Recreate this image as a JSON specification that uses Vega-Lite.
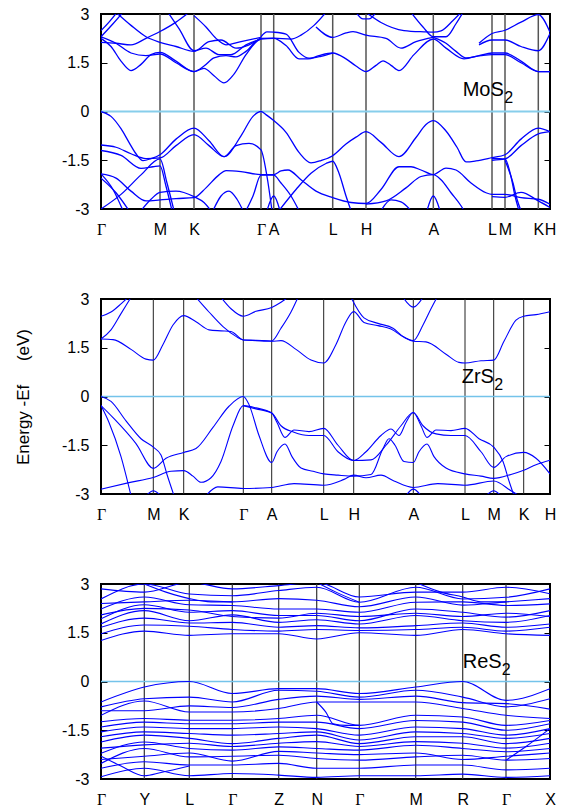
{
"$schema":"https://vega.github.io/schema/vega-lite/v6.json",
"padding":{"left":13,"top":5,"right":5,"bottom":5},
"spacing":90,
"bounds":"flush",
"config":{"view":{"stroke":"#000","strokeWidth":2},"font":"Liberation Sans","axis":{"labelColor":"#000","labelFont":"Liberation Sans","titleFont":"Liberation Sans","titleColor":"#000","tickColor":"#000"}},
"datasets":{
"mk":[{"k":0},{"k":59},{"k":93},{"k":160},{"k":172.7},{"k":231.7},{"k":265},{"k":332.3},{"k":391},{"k":404},{"k":437.3},{"k":449}],
"zk":[{"k":0},{"k":52.3},{"k":82.7},{"k":142.3},{"k":170.7},{"k":222.7},{"k":252.7},{"k":312.3},{"k":364},{"k":392.7},{"k":422.7},{"k":449}],
"rk":[{"k":0},{"k":43.3},{"k":88.3},{"k":131.3},{"k":177.7},{"k":215.7},{"k":258.3},{"k":314.7},{"k":361.7},{"k":405},{"k":449}],
"m":[
{"b":"v1","k":0,"e":0},{"b":"v1","k":10,"e":-0.15},{"b":"v1","k":20,"e":-0.53},{"b":"v1","k":28,"e":-0.95},{"b":"v1","k":35,"e":-1.3},{"b":"v1","k":42,"e":-1.51},{"b":"v1","k":50,"e":-1.45},{"b":"v1","k":59,"e":-1.33},{"b":"v1","k":75,"e":-0.85},{"b":"v1","k":93,"e":-0.51},{"b":"v1","k":108,"e":-0.9},{"b":"v1","k":123,"e":-1.39},{"b":"v1","k":140,"e":-0.75},{"b":"v1","k":152,"e":-0.15},{"b":"v1","k":160,"e":0},{"b":"v1","k":166,"e":-0.12},{"b":"v1","k":172.7,"e":-0.28},{"b":"v1","k":185,"e":-0.64},{"b":"v1","k":198,"e":-1.26},{"b":"v1","k":210,"e":-1.58},{"b":"v1","k":220,"e":-1.51},{"b":"v1","k":231.7,"e":-1.36},{"b":"v1","k":245,"e":-1.0},{"b":"v1","k":255,"e":-0.79},{"b":"v1","k":265,"e":-0.62},{"b":"v1","k":280,"e":-0.95},{"b":"v1","k":298,"e":-1.39},{"b":"v1","k":315,"e":-0.8},{"b":"v1","k":325,"e":-0.4},{"b":"v1","k":332.3,"e":-0.28},{"b":"v1","k":345,"e":-0.6},{"b":"v1","k":356,"e":-1.1},{"b":"v1","k":365,"e":-1.55},{"b":"v1","k":375,"e":-1.52},{"b":"v1","k":391,"e":-1.42},{"b":"v1","k":404,"e":-1.33},{"b":"v1","k":420,"e":-0.85},{"b":"v1","k":437.3,"e":-0.51},{"b":"v1","k":449,"e":-0.62},
{"b":"v2","k":0,"e":-1.03},{"b":"v2","k":15,"e":-1.1},{"b":"v2","k":30,"e":-1.3},{"b":"v2","k":45,"e":-1.45},{"b":"v2","k":59,"e":-1.43},{"b":"v2","k":75,"e":-1.05},{"b":"v2","k":93,"e":-0.71},{"b":"v2","k":108,"e":-1.05},{"b":"v2","k":123,"e":-1.39},{"b":"v2","k":135,"e":-1.05},{"b":"v2","k":148,"e":-0.98},{"b":"v2","k":160,"e":-1.18},{"b":"v2","k":166,"e":-2.0},{"b":"v2","k":171,"e":-3.05},
{"b":"v2r","k":391,"e":-1.5},{"b":"v2r","k":404,"e":-1.46},{"b":"v2r","k":420,"e":-1.05},{"b":"v2r","k":437.3,"e":-0.69},{"b":"v2r","k":449,"e":-0.62},
{"b":"v3","k":0,"e":-1.2},{"b":"v3","k":20,"e":-1.35},{"b":"v3","k":40,"e":-1.75},{"b":"v3","k":52,"e":-1.7},{"b":"v3","k":59,"e":-1.67},{"b":"v3","k":65,"e":-2.3},{"b":"v3","k":71,"e":-3.05},
{"b":"v4","k":0,"e":-1.92},{"b":"v4","k":15,"e":-2.05},{"b":"v4","k":30,"e":-2.45},{"b":"v4","k":45,"e":-2.75},{"b":"v4","k":59,"e":-2.72},{"b":"v4","k":75,"e":-2.68},{"b":"v4","k":93,"e":-2.65},{"b":"v4","k":105,"e":-2.35},{"b":"v4","k":118,"e":-1.95},{"b":"v4","k":125,"e":-1.82},{"b":"v4","k":140,"e":-1.85},{"b":"v4","k":160,"e":-1.94},{"b":"v4","k":172.7,"e":-1.94},{"b":"v4","k":180,"e":-1.83},{"b":"v4","k":187,"e":-1.8},{"b":"v4","k":200,"e":-2.1},{"b":"v4","k":215,"e":-2.45},{"b":"v4","k":231.7,"e":-2.65},{"b":"v4","k":250,"e":-2.8},{"b":"v4","k":265,"e":-2.83},{"b":"v4","k":280,"e":-2.4},{"b":"v4","k":298,"e":-1.7},{"b":"v4","k":310,"e":-1.7},{"b":"v4","k":320,"e":-1.8},{"b":"v4","k":332.3,"e":-1.94},{"b":"v4","k":345,"e":-1.74},{"b":"v4","k":355,"e":-1.8},{"b":"v4","k":370,"e":-2.2},{"b":"v4","k":385,"e":-2.5},{"b":"v4","k":391,"e":-2.55},{"b":"v4","k":404,"e":-2.55},{"b":"v4","k":420,"e":-2.65},{"b":"v4","k":437.3,"e":-2.7},{"b":"v4","k":449,"e":-2.85},
{"b":"v5","k":0,"e":-3.0},{"b":"v5","k":20,"e":-2.55},{"b":"v5","k":40,"e":-1.95},{"b":"v5","k":59,"e":-1.46},{"b":"v5","k":66,"e":-2.2},{"b":"v5","k":73,"e":-3.05},
{"b":"v6","k":0,"e":-1.92},{"b":"v6","k":12,"e":-2.4},{"b":"v6","k":22,"e":-3.05},
{"b":"v7","k":0,"e":-2.05},{"b":"v7","k":15,"e":-2.5},{"b":"v7","k":28,"e":-3.05},
{"b":"v8","k":40,"e":-3.05},{"b":"v8","k":50,"e":-2.7},{"b":"v8","k":59,"e":-2.49},{"b":"v8","k":75,"e":-2.45},{"b":"v8","k":93,"e":-2.62},{"b":"v8","k":103,"e":-2.8},{"b":"v8","k":110,"e":-3.05},
{"b":"v9","k":112,"e":-3.05},{"b":"v9","k":120,"e":-2.6},{"b":"v9","k":128,"e":-2.45},{"b":"v9","k":136,"e":-2.7},{"b":"v9","k":142,"e":-3.05},
{"b":"v10","k":145,"e":-3.05},{"b":"v10","k":152,"e":-2.6},{"b":"v10","k":160,"e":-1.96},{"b":"v10","k":172.7,"e":-1.96},{"b":"v10","k":180,"e":-2.2},{"b":"v10","k":190,"e":-2.6},{"b":"v10","k":198,"e":-3.05},
{"b":"v11","k":166,"e":-3.05},{"b":"v11","k":172.7,"e":-2.6},{"b":"v11","k":179,"e":-3.05},
{"b":"v12","k":178,"e":-3.05},{"b":"v12","k":195,"e":-2.4},{"b":"v12","k":210,"e":-1.9},{"b":"v12","k":225,"e":-1.6},{"b":"v12","k":231.7,"e":-1.53},{"b":"v12","k":238,"e":-1.9},{"b":"v12","k":245,"e":-2.6},{"b":"v12","k":250,"e":-3.05},
{"b":"v13","k":280,"e":-3.05},{"b":"v13","k":290,"e":-2.72},{"b":"v13","k":300,"e":-2.78},{"b":"v13","k":310,"e":-3.05},
{"b":"v14","k":265,"e":-2.85},{"b":"v14","k":285,"e":-2.75},{"b":"v14","k":305,"e":-2.35},{"b":"v14","k":320,"e":-2.0},{"b":"v14","k":332.3,"e":-1.94},{"b":"v14","k":340,"e":-2.1},{"b":"v14","k":350,"e":-2.5},{"b":"v14","k":360,"e":-2.9},{"b":"v14","k":363,"e":-3.05},
{"b":"v15","k":326,"e":-3.05},{"b":"v15","k":332.3,"e":-2.6},{"b":"v15","k":339,"e":-3.05},
{"b":"v16","k":391,"e":-1.44},{"b":"v16","k":404,"e":-1.46},{"b":"v16","k":410,"e":-2.0},{"b":"v16","k":414,"e":-2.6},{"b":"v16","k":418,"e":-3.05},
{"b":"v17","k":404,"e":-1.5},{"b":"v17","k":412,"e":-2.2},{"b":"v17","k":416,"e":-2.7},{"b":"v17","k":420,"e":-3.05},
{"b":"v18","k":391,"e":-2.62},{"b":"v18","k":404,"e":-2.64},{"b":"v18","k":420,"e":-2.49},{"b":"v18","k":437.3,"e":-2.75},{"b":"v18","k":449,"e":-2.95},
{"b":"c1","k":0,"e":2.25},{"b":"c1","k":10,"e":2.0},{"b":"c1","k":20,"e":1.55},{"b":"c1","k":30,"e":1.26},{"b":"c1","k":40,"e":1.45},{"b":"c1","k":50,"e":1.75},{"b":"c1","k":59,"e":1.82},{"b":"c1","k":75,"e":1.55},{"b":"c1","k":93,"e":1.23},{"b":"c1","k":103,"e":1.33},{"b":"c1","k":113,"e":1.1},{"b":"c1","k":123,"e":0.88},{"b":"c1","k":133,"e":1.15},{"b":"c1","k":145,"e":1.75},{"b":"c1","k":160,"e":2.23},{"b":"c1","k":172.7,"e":2.25},{"b":"c1","k":185,"e":2.03},{"b":"c1","k":198,"e":1.62},{"b":"c1","k":207,"e":1.62},{"b":"c1","k":218,"e":1.72},{"b":"c1","k":231.7,"e":1.8},{"b":"c1","k":245,"e":1.62},{"b":"c1","k":255,"e":1.4},{"b":"c1","k":265,"e":1.23},{"b":"c1","k":275,"e":1.42},{"b":"c1","k":282,"e":1.56},{"b":"c1","k":290,"e":1.42},{"b":"c1","k":298,"e":1.26},{"b":"c1","k":313,"e":1.75},{"b":"c1","k":332.3,"e":2.23},{"b":"c1","k":345,"e":1.95},{"b":"c1","k":363,"e":1.62},{"b":"c1","k":378,"e":1.72},{"b":"c1","k":391,"e":1.8},{"b":"c1","k":404,"e":1.8},{"b":"c1","k":420,"e":1.55},{"b":"c1","k":437.3,"e":1.23},{"b":"c1","k":449,"e":1.23},
{"b":"c2","k":0,"e":2.3},{"b":"c2","k":15,"e":2.1},{"b":"c2","k":30,"e":1.8},{"b":"c2","k":45,"e":1.72},{"b":"c2","k":59,"e":1.77},{"b":"c2","k":75,"e":1.5},{"b":"c2","k":93,"e":1.23},{"b":"c2","k":103,"e":1.4},{"b":"c2","k":113,"e":1.65},{"b":"c2","k":125,"e":1.72},{"b":"c2","k":135,"e":1.68},{"b":"c2","k":145,"e":1.85},{"b":"c2","k":160,"e":2.25},{"b":"c2","k":172.7,"e":2.26},{"b":"c2","k":190,"e":2.23},{"b":"c2","k":200,"e":2.35},{"b":"c2","k":213,"e":2.65},{"b":"c2","k":225,"e":3.05},
{"b":"c2r","k":332.3,"e":2.28},{"b":"c2r","k":345,"e":2.1},{"b":"c2r","k":355,"e":1.85},{"b":"c2r","k":365,"e":1.65},{"b":"c2r","k":380,"e":1.72},{"b":"c2r","k":391,"e":1.75},{"b":"c2r","k":404,"e":1.75},{"b":"c2r","k":420,"e":1.5},{"b":"c2r","k":437.3,"e":1.23},{"b":"c2r","k":449,"e":1.23},
{"b":"c3","k":0,"e":2.13},{"b":"c3","k":15,"e":2.1},{"b":"c3","k":30,"e":2.05},{"b":"c3","k":45,"e":2.25},{"b":"c3","k":59,"e":2.46},{"b":"c3","k":75,"e":2.75},{"b":"c3","k":88,"e":3.05},
{"b":"c8","k":15,"e":3.05},{"b":"c8","k":30,"e":2.65},{"b":"c8","k":45,"e":2.3},{"b":"c8","k":59,"e":2.13},{"b":"c8","k":75,"e":2.0},{"b":"c8","k":93,"e":1.85},{"b":"c8","k":108,"e":2.15},{"b":"c8","k":120,"e":2.2},{"b":"c8","k":135,"e":1.95},{"b":"c8","k":160,"e":2.25},
{"b":"c4","k":67,"e":3.05},{"b":"c4","k":78,"e":2.55},{"b":"c4","k":93,"e":1.87},{"b":"c4","k":105,"e":1.95},{"b":"c4","k":118,"e":1.75},{"b":"c4","k":130,"e":1.75},{"b":"c4","k":145,"e":2.05},{"b":"c4","k":160,"e":2.23},
{"b":"c5","k":93,"e":2.95},{"b":"c5","k":105,"e":2.6},{"b":"c5","k":115,"e":2.25},{"b":"c5","k":125,"e":2.05},{"b":"c5","k":140,"e":2.15},{"b":"c5","k":160,"e":2.28},
{"b":"c6","k":0,"e":2.49},{"b":"c6","k":8,"e":2.75},{"b":"c6","k":16,"e":3.05},
{"b":"c7","k":0,"e":2.3},{"b":"c7","k":12,"e":2.7},{"b":"c7","k":22,"e":3.05},
{"b":"c9","k":160,"e":2.3},{"b":"c9","k":166,"e":2.45},{"b":"c9","k":172.7,"e":2.44},{"b":"c9","k":185,"e":2.38},{"b":"c9","k":198,"e":1.82},{"b":"c9","k":208,"e":1.64},{"b":"c9","k":220,"e":1.7},{"b":"c9","k":231.7,"e":1.8},
{"b":"c11","k":215,"e":2.6},{"b":"c11","k":231.7,"e":2.28},{"b":"c11","k":245,"e":2.42},{"b":"c11","k":252,"e":2.46},{"b":"c11","k":265,"e":2.35},{"b":"c11","k":285,"e":2.25},{"b":"c11","k":300,"e":1.95},{"b":"c11","k":315,"e":2.15},{"b":"c11","k":332.3,"e":2.28},
{"b":"c12","k":255,"e":3.05},{"b":"c12","k":262,"e":2.85},{"b":"c12","k":268,"e":2.85},{"b":"c12","k":275,"e":3.05},
{"b":"c13","k":265,"e":3.05},{"b":"c13","k":280,"e":2.74},{"b":"c13","k":303,"e":2.49},{"b":"c13","k":323,"e":2.45},{"b":"c13","k":332.3,"e":2.44},{"b":"c13","k":340,"e":2.48},{"b":"c13","k":352,"e":2.8},{"b":"c13","k":360,"e":3.05},
{"b":"c14","k":310,"e":3.05},{"b":"c14","k":322,"e":2.6},{"b":"c14","k":332.3,"e":2.3},{"b":"c14","k":345,"e":2.3},{"b":"c14","k":355,"e":2.7},{"b":"c14","k":362,"e":3.05},
{"b":"c15","k":378,"e":2.1},{"b":"c15","k":391,"e":2.4},{"b":"c15","k":404,"e":2.5},{"b":"c15","k":420,"e":2.75},{"b":"c15","k":437.3,"e":2.98},{"b":"c15","k":449,"e":2.44},
{"b":"c16","k":378,"e":2.05},{"b":"c16","k":391,"e":2.2},{"b":"c16","k":404,"e":2.2},{"b":"c16","k":420,"e":2.0},{"b":"c16","k":437.3,"e":1.87},{"b":"c16","k":449,"e":2.4}
],
"z":[
{"b":"c1","k":0,"e":1.77},{"b":"c1","k":12,"e":1.75},{"b":"c1","k":30,"e":1.45},{"b":"c1","k":45,"e":1.15},{"b":"c1","k":52.3,"e":1.12},{"b":"c1","k":62,"e":1.6},{"b":"c1","k":72,"e":2.2},{"b":"c1","k":82.7,"e":2.49},{"b":"c1","k":95,"e":2.3},{"b":"c1","k":108,"e":2.05},{"b":"c1","k":120,"e":2.02},{"b":"c1","k":130,"e":2.0},{"b":"c1","k":142.3,"e":1.74},{"b":"c1","k":155,"e":1.72},{"b":"c1","k":170.7,"e":1.7},{"b":"c1","k":180,"e":1.72},{"b":"c1","k":195,"e":1.45},{"b":"c1","k":210,"e":1.12},{"b":"c1","k":222.7,"e":1.03},{"b":"c1","k":235,"e":1.6},{"b":"c1","k":245,"e":2.3},{"b":"c1","k":252.7,"e":2.61},{"b":"c1","k":263,"e":2.28},{"b":"c1","k":277,"e":2.18},{"b":"c1","k":290,"e":2.08},{"b":"c1","k":303,"e":1.82},{"b":"c1","k":312.3,"e":1.7},{"b":"c1","k":325,"e":1.68},{"b":"c1","k":345,"e":1.3},{"b":"c1","k":358,"e":1.05},{"b":"c1","k":364,"e":1.03},{"b":"c1","k":380,"e":1.1},{"b":"c1","k":392.7,"e":1.12},{"b":"c1","k":403,"e":1.7},{"b":"c1","k":415,"e":2.35},{"b":"c1","k":422.7,"e":2.47},{"b":"c1","k":435,"e":2.52},{"b":"c1","k":449,"e":2.61},
{"b":"c2","k":95,"e":3.05},{"b":"c2","k":108,"e":2.6},{"b":"c2","k":122,"e":2.15},{"b":"c2","k":135,"e":1.85},{"b":"c2","k":142.3,"e":1.74},{"b":"c2","k":155,"e":1.73},{"b":"c2","k":170.7,"e":1.71},{"b":"c2","k":180,"e":2.1},{"b":"c2","k":190,"e":2.6},{"b":"c2","k":197,"e":3.05},
{"b":"c3","k":0,"e":1.77},{"b":"c3","k":10,"e":2.05},{"b":"c3","k":20,"e":2.55},{"b":"c3","k":30,"e":3.05},
{"b":"c4","k":0,"e":2.47},{"b":"c4","k":10,"e":2.6},{"b":"c4","k":20,"e":2.85},{"b":"c4","k":27,"e":3.05},
{"b":"c5","k":120,"e":3.05},{"b":"c5","k":130,"e":2.7},{"b":"c5","k":142.3,"e":2.47},{"b":"c5","k":155,"e":2.62},{"b":"c5","k":170.7,"e":2.74},{"b":"c5","k":180,"e":2.9},{"b":"c5","k":187,"e":3.05},
{"b":"c6","k":250,"e":3.05},{"b":"c6","k":263,"e":2.42},{"b":"c6","k":277,"e":2.25},{"b":"c6","k":292,"e":2.1},{"b":"c6","k":302,"e":1.85},{"b":"c6","k":312.3,"e":1.72},{"b":"c6","k":322,"e":2.2},{"b":"c6","k":330,"e":2.7},{"b":"c6","k":336,"e":3.05},
{"b":"c7","k":302,"e":3.05},{"b":"c7","k":312.3,"e":2.75},{"b":"c7","k":322,"e":3.05},
{"b":"v1","k":0,"e":0},{"b":"v1","k":10,"e":-0.15},{"b":"v1","k":25,"e":-0.75},{"b":"v1","k":40,"e":-1.3},{"b":"v1","k":52.3,"e":-1.56},{"b":"v1","k":60,"e":-1.8},{"b":"v1","k":66,"e":-2.4},{"b":"v1","k":73,"e":-3.05},
{"b":"v2","k":0,"e":-0.28},{"b":"v2","k":12,"e":-0.65},{"b":"v2","k":35,"e":-1.45},{"b":"v2","k":52.3,"e":-2.21},{"b":"v2","k":65,"e":-1.9},{"b":"v2","k":82.7,"e":-1.72},{"b":"v2","k":95,"e":-1.6},{"b":"v2","k":112,"e":-0.95},{"b":"v2","k":128,"e":-0.3},{"b":"v2","k":142.3,"e":0},{"b":"v2","k":148,"e":-0.25},{"b":"v2","k":158,"e":-1.2},{"b":"v2","k":170.7,"e":-2.03},{"b":"v2","k":176,"e":-1.7},{"b":"v2","k":184,"e":-1.46},{"b":"v2","k":191,"e":-1.85},{"b":"v2","k":200,"e":-2.2},{"b":"v2","k":212,"e":-2.3},{"b":"v2","k":222.7,"e":-2.38},{"b":"v2","k":237,"e":-2.42},{"b":"v2","k":252.7,"e":-2.45},{"b":"v2","k":270,"e":-2.4},{"b":"v2","k":282,"e":-1.6},{"b":"v2","k":288,"e":-1.3},{"b":"v2","k":294,"e":-1.5},{"b":"v2","k":303,"e":-2.0},{"b":"v2","k":312.3,"e":-2.03},{"b":"v2","k":318,"e":-1.7},{"b":"v2","k":326,"e":-1.46},{"b":"v2","k":333,"e":-1.85},{"b":"v2","k":345,"e":-2.2},{"b":"v2","k":364,"e":-2.38},{"b":"v2","k":380,"e":-2.45},{"b":"v2","k":392.7,"e":-2.52},{"b":"v2","k":410,"e":-2.4},{"b":"v2","k":422.7,"e":-2.27},{"b":"v2","k":435,"e":-2.1},{"b":"v2","k":449,"e":-1.96},
{"b":"v3","k":0,"e":-0.28},{"b":"v3","k":8,"e":-0.8},{"b":"v3","k":20,"e":-1.85},{"b":"v3","k":30,"e":-3.05},
{"b":"v4","k":0,"e":-2.85},{"b":"v4","k":28,"e":-2.65},{"b":"v4","k":52.3,"e":-2.49},{"b":"v4","k":70,"e":-2.3},{"b":"v4","k":82.7,"e":-2.28},{"b":"v4","k":92,"e":-2.45},{"b":"v4","k":100,"e":-2.64},{"b":"v4","k":110,"e":-2.5},{"b":"v4","k":120,"e":-2.0},{"b":"v4","k":132,"e":-0.9},{"b":"v4","k":142.3,"e":-0.28},{"b":"v4","k":155,"e":-0.35},{"b":"v4","k":170.7,"e":-0.51},{"b":"v4","k":176,"e":-0.8},{"b":"v4","k":184,"e":-1.26},{"b":"v4","k":193,"e":-1.03},{"b":"v4","k":208,"e":-1.08},{"b":"v4","k":222.7,"e":-0.98},{"b":"v4","k":237,"e":-1.5},{"b":"v4","k":252.7,"e":-1.97},{"b":"v4","k":265,"e":-1.7},{"b":"v4","k":280,"e":-1.2},{"b":"v4","k":290,"e":-1.0},{"b":"v4","k":298,"e":-1.2},{"b":"v4","k":305,"e":-0.8},{"b":"v4","k":312.3,"e":-0.49},{"b":"v4","k":320,"e":-0.9},{"b":"v4","k":326,"e":-1.26},{"b":"v4","k":335,"e":-1.03},{"b":"v4","k":350,"e":-1.05},{"b":"v4","k":364,"e":-0.98},{"b":"v4","k":378,"e":-1.3},{"b":"v4","k":392.7,"e":-1.56},{"b":"v4","k":402,"e":-2.0},{"b":"v4","k":408,"e":-2.6},{"b":"v4","k":413,"e":-3.05},
{"b":"v5","k":142.3,"e":-0.28},{"b":"v5","k":155,"e":-0.38},{"b":"v5","k":170.7,"e":-0.51},{"b":"v5","k":180,"e":-0.9},{"b":"v5","k":193,"e":-1.1},{"b":"v5","k":208,"e":-1.2},{"b":"v5","k":222.7,"e":-1.2},{"b":"v5","k":237,"e":-1.7},{"b":"v5","k":252.7,"e":-1.97},{"b":"v5","k":270,"e":-1.95},{"b":"v5","k":285,"e":-1.5},{"b":"v5","k":300,"e":-0.9},{"b":"v5","k":312.3,"e":-0.49},{"b":"v5","k":322,"e":-0.9},{"b":"v5","k":335,"e":-1.15},{"b":"v5","k":350,"e":-1.2},{"b":"v5","k":364,"e":-1.2},{"b":"v5","k":380,"e":-1.7},{"b":"v5","k":392.7,"e":-2.18},{"b":"v5","k":405,"e":-1.85},{"b":"v5","k":422.7,"e":-1.72},{"b":"v5","k":435,"e":-1.9},{"b":"v5","k":449,"e":-2.38},
{"b":"v6","k":105,"e":-3.05},{"b":"v6","k":116.7,"e":-2.78},{"b":"v6","k":142.3,"e":-2.83},{"b":"v6","k":170.7,"e":-2.8},{"b":"v6","k":193,"e":-2.68},{"b":"v6","k":222.7,"e":-2.73},{"b":"v6","k":243,"e":-2.55},{"b":"v6","k":252.7,"e":-2.42},{"b":"v6","k":265,"e":-2.5},{"b":"v6","k":280,"e":-2.42},{"b":"v6","k":293,"e":-2.6},{"b":"v6","k":312.3,"e":-2.8},{"b":"v6","k":336.7,"e":-2.68},{"b":"v6","k":364,"e":-2.73},{"b":"v6","k":392.7,"e":-2.6},{"b":"v6","k":410,"e":-2.9},{"b":"v6","k":418,"e":-3.05},
{"b":"v7","k":45,"e":-3.05},{"b":"v7","k":52.3,"e":-2.9},{"b":"v7","k":60,"e":-3.05},
{"b":"v8","k":305,"e":-3.05},{"b":"v8","k":312.3,"e":-2.85},{"b":"v8","k":320,"e":-3.05},
{"b":"v9","k":385,"e":-3.05},{"b":"v9","k":392.7,"e":-2.9},{"b":"v9","k":400,"e":-3.05}
],
"r":[
{"b":"rc1","k":0,"e":2.54},{"b":"rc1","k":43.3,"e":3.0},{"b":"rc1","k":88.3,"e":2.69},{"b":"rc1","k":131.3,"e":2.64},{"b":"rc1","k":177.7,"e":2.8},{"b":"rc1","k":215.7,"e":2.9},{"b":"rc1","k":258.3,"e":2.44},{"b":"rc1","k":314.7,"e":2.9},{"b":"rc1","k":361.7,"e":2.54},{"b":"rc1","k":405,"e":2.59},{"b":"rc1","k":449,"e":2.85},
{"b":"rc2","k":0,"e":2.23},{"b":"rc2","k":43.3,"e":2.6},{"b":"rc2","k":88.3,"e":2.36},{"b":"rc2","k":131.3,"e":2.34},{"b":"rc2","k":177.7,"e":2.23},{"b":"rc2","k":215.7,"e":2.23},{"b":"rc2","k":258.3,"e":2.13},{"b":"rc2","k":314.7,"e":2.44},{"b":"rc2","k":361.7,"e":2.45},{"b":"rc2","k":405,"e":2.34},{"b":"rc2","k":449,"e":2.39},
{"b":"rc3","k":0,"e":1.93},{"b":"rc3","k":43.3,"e":2.36},{"b":"rc3","k":88.3,"e":2.13},{"b":"rc3","k":131.3,"e":2.18},{"b":"rc3","k":177.7,"e":2.03},{"b":"rc3","k":215.7,"e":2.03},{"b":"rc3","k":258.3,"e":1.87},{"b":"rc3","k":314.7,"e":2.23},{"b":"rc3","k":361.7,"e":2.13},{"b":"rc3","k":405,"e":1.98},{"b":"rc3","k":449,"e":2.18},
{"b":"rc4","k":0,"e":1.77},{"b":"rc4","k":43.3,"e":2.18},{"b":"rc4","k":88.3,"e":1.87},{"b":"rc4","k":131.3,"e":2.05},{"b":"rc4","k":177.7,"e":1.82},{"b":"rc4","k":215.7,"e":1.9},{"b":"rc4","k":258.3,"e":1.77},{"b":"rc4","k":314.7,"e":2.03},{"b":"rc4","k":361.7,"e":1.87},{"b":"rc4","k":405,"e":1.82},{"b":"rc4","k":449,"e":2.03},
{"b":"rc5","k":0,"e":1.67},{"b":"rc5","k":43.3,"e":1.95},{"b":"rc5","k":88.3,"e":1.8},{"b":"rc5","k":131.3,"e":1.82},{"b":"rc5","k":177.7,"e":1.67},{"b":"rc5","k":215.7,"e":1.72},{"b":"rc5","k":258.3,"e":1.65},{"b":"rc5","k":314.7,"e":1.72},{"b":"rc5","k":361.7,"e":1.8},{"b":"rc5","k":405,"e":1.67},{"b":"rc5","k":449,"e":1.77},
{"b":"rc6","k":0,"e":1.47},{"b":"rc6","k":43.3,"e":1.74},{"b":"rc6","k":88.3,"e":1.7},{"b":"rc6","k":131.3,"e":1.6},{"b":"rc6","k":177.7,"e":1.55},{"b":"rc6","k":215.7,"e":1.6},{"b":"rc6","k":258.3,"e":1.57},{"b":"rc6","k":314.7,"e":1.6},{"b":"rc6","k":361.7,"e":1.67},{"b":"rc6","k":405,"e":1.55},{"b":"rc6","k":449,"e":1.67},
{"b":"rc7","k":0,"e":1.26},{"b":"rc7","k":43.3,"e":1.55},{"b":"rc7","k":88.3,"e":1.42},{"b":"rc7","k":131.3,"e":1.47},{"b":"rc7","k":177.7,"e":1.47},{"b":"rc7","k":215.7,"e":1.31},{"b":"rc7","k":258.3,"e":1.5},{"b":"rc7","k":314.7,"e":1.42},{"b":"rc7","k":361.7,"e":1.6},{"b":"rc7","k":405,"e":1.47},{"b":"rc7","k":449,"e":1.42},
{"b":"rc8","k":0,"e":2.4},{"b":"rc8","k":43.3,"e":2.45},{"b":"rc8","k":88.3,"e":2.5},{"b":"rc8","k":131.3,"e":2.45},{"b":"rc8","k":177.7,"e":2.55},{"b":"rc8","k":215.7,"e":2.5},{"b":"rc8","k":258.3,"e":2.3},{"b":"rc8","k":314.7,"e":2.6},{"b":"rc8","k":361.7,"e":2.35},{"b":"rc8","k":405,"e":2.45},{"b":"rc8","k":449,"e":2.55},
{"b":"rc9","k":0,"e":2.85},{"b":"rc9","k":43.3,"e":2.75},{"b":"rc9","k":88.3,"e":3.05},{"b":"rc9","k":131.3,"e":2.85},{"b":"rc9","k":177.7,"e":2.95},{"b":"rc9","k":215.7,"e":3.05},{"b":"rc9","k":258.3,"e":2.6},{"b":"rc9","k":314.7,"e":2.75},{"b":"rc9","k":361.7,"e":2.75},{"b":"rc9","k":405,"e":2.9},{"b":"rc9","k":449,"e":2.7},
{"b":"rc10","k":0,"e":2.05},{"b":"rc10","k":43.3,"e":2.25},{"b":"rc10","k":88.3,"e":2.2},{"b":"rc10","k":131.3,"e":2.0},{"b":"rc10","k":177.7,"e":1.95},{"b":"rc10","k":215.7,"e":2.1},{"b":"rc10","k":258.3,"e":2.0},{"b":"rc10","k":314.7,"e":2.1},{"b":"rc10","k":361.7,"e":2.0},{"b":"rc10","k":405,"e":2.1},{"b":"rc10","k":449,"e":2.0},
{"b":"rx1","k":215.7,"e":3.05},{"b":"rx1","k":235,"e":2.75},{"b":"rx1","k":258.3,"e":2.44},
{"b":"rx2","k":43.3,"e":3.0},{"b":"rx2","k":65,"e":2.75},{"b":"rx2","k":88.3,"e":2.55},{"b":"rx2","k":110,"e":2.45},{"b":"rx2","k":131.3,"e":2.45},
{"b":"rx3","k":314.7,"e":3.05},{"b":"rx3","k":340,"e":2.75},{"b":"rx3","k":361.7,"e":2.6},{"b":"rx3","k":380,"e":2.45},{"b":"rx3","k":405,"e":2.45},
{"b":"rv1","k":0,"e":-0.63},{"b":"rv1","k":43.3,"e":-0.17},{"b":"rv1","k":88.3,"e":0.0},{"b":"rv1","k":131.3,"e":-0.37},{"b":"rv1","k":177.7,"e":-0.22},{"b":"rv1","k":215.7,"e":-0.22},{"b":"rv1","k":258.3,"e":-0.37},{"b":"rv1","k":314.7,"e":-0.17},{"b":"rv1","k":361.7,"e":0.0},{"b":"rv1","k":405,"e":-0.58},{"b":"rv1","k":449,"e":-0.22},
{"b":"rv2","k":0,"e":-0.78},{"b":"rv2","k":43.3,"e":-0.53},{"b":"rv2","k":88.3,"e":-0.48},{"b":"rv2","k":131.3,"e":-0.63},{"b":"rv2","k":177.7,"e":-0.27},{"b":"rv2","k":215.7,"e":-0.3},{"b":"rv2","k":258.3,"e":-0.48},{"b":"rv2","k":314.7,"e":-0.27},{"b":"rv2","k":361.7,"e":-0.48},{"b":"rv2","k":405,"e":-0.78},{"b":"rv2","k":449,"e":-0.53},
{"b":"rv11","k":0,"e":-0.9},{"b":"rv11","k":43.3,"e":-0.9},{"b":"rv11","k":88.3,"e":-0.75},{"b":"rv11","k":131.3,"e":-0.8},{"b":"rv11","k":177.7,"e":-0.55},{"b":"rv11","k":215.7,"e":-0.45},{"b":"rv11","k":258.3,"e":-0.55},{"b":"rv11","k":314.7,"e":-0.45},{"b":"rv11","k":361.7,"e":-0.65},{"b":"rv11","k":405,"e":-0.68},{"b":"rv11","k":449,"e":-0.85},
{"b":"rv3","k":0,"e":-1.04},{"b":"rv3","k":43.3,"e":-0.6},{"b":"rv3","k":88.3,"e":-0.94},{"b":"rv3","k":131.3,"e":-0.94},{"b":"rv3","k":177.7,"e":-0.83},{"b":"rv3","k":215.7,"e":-0.63},{"b":"rv3","k":258.3,"e":-0.63},{"b":"rv3","k":314.7,"e":-0.63},{"b":"rv3","k":361.7,"e":-0.83},{"b":"rv3","k":405,"e":-1.04},{"b":"rv3","k":449,"e":-1.14},
{"b":"rx4","k":215.7,"e":-0.63},{"b":"rx4","k":225,"e":-0.95},{"b":"rx4","k":232,"e":-1.3},{"b":"rx4","k":245,"e":-1.35},{"b":"rx4","k":258.3,"e":-1.35},
{"b":"rv4","k":0,"e":-1.24},{"b":"rv4","k":43.3,"e":-1.14},{"b":"rv4","k":88.3,"e":-1.19},{"b":"rv4","k":131.3,"e":-1.19},{"b":"rv4","k":177.7,"e":-1.14},{"b":"rv4","k":215.7,"e":-1.04},{"b":"rv4","k":258.3,"e":-1.35},{"b":"rv4","k":314.7,"e":-1.04},{"b":"rv4","k":361.7,"e":-1.09},{"b":"rv4","k":405,"e":-1.35},{"b":"rv4","k":449,"e":-1.2},
{"b":"rv12","k":0,"e":-1.4},{"b":"rv12","k":43.3,"e":-1.25},{"b":"rv12","k":88.3,"e":-1.3},{"b":"rv12","k":131.3,"e":-1.3},{"b":"rv12","k":177.7,"e":-1.25},{"b":"rv12","k":215.7,"e":-1.25},{"b":"rv12","k":258.3,"e":-1.45},{"b":"rv12","k":314.7,"e":-1.2},{"b":"rv12","k":361.7,"e":-1.25},{"b":"rv12","k":405,"e":-1.5},{"b":"rv12","k":449,"e":-1.3},
{"b":"rv5","k":0,"e":-1.55},{"b":"rv5","k":43.3,"e":-1.4},{"b":"rv5","k":88.3,"e":-1.45},{"b":"rv5","k":131.3,"e":-1.45},{"b":"rv5","k":177.7,"e":-1.4},{"b":"rv5","k":215.7,"e":-1.45},{"b":"rv5","k":258.3,"e":-1.65},{"b":"rv5","k":314.7,"e":-1.4},{"b":"rv5","k":361.7,"e":-1.45},{"b":"rv5","k":405,"e":-1.65},{"b":"rv5","k":449,"e":-1.45},
{"b":"rv13","k":0,"e":-1.7},{"b":"rv13","k":43.3,"e":-1.55},{"b":"rv13","k":88.3,"e":-1.6},{"b":"rv13","k":131.3,"e":-1.65},{"b":"rv13","k":177.7,"e":-1.6},{"b":"rv13","k":215.7,"e":-1.55},{"b":"rv13","k":258.3,"e":-1.8},{"b":"rv13","k":314.7,"e":-1.55},{"b":"rv13","k":361.7,"e":-1.6},{"b":"rv13","k":405,"e":-1.75},{"b":"rv13","k":449,"e":-1.6},
{"b":"rv6","k":0,"e":-1.86},{"b":"rv6","k":43.3,"e":-1.65},{"b":"rv6","k":88.3,"e":-1.75},{"b":"rv6","k":131.3,"e":-1.91},{"b":"rv6","k":177.7,"e":-1.75},{"b":"rv6","k":215.7,"e":-1.65},{"b":"rv6","k":258.3,"e":-1.91},{"b":"rv6","k":314.7,"e":-1.7},{"b":"rv6","k":361.7,"e":-1.7},{"b":"rv6","k":405,"e":-1.91},{"b":"rv6","k":449,"e":-1.75},
{"b":"rv14","k":0,"e":-2.05},{"b":"rv14","k":43.3,"e":-1.95},{"b":"rv14","k":88.3,"e":-1.9},{"b":"rv14","k":131.3,"e":-2.0},{"b":"rv14","k":177.7,"e":-1.9},{"b":"rv14","k":215.7,"e":-1.85},{"b":"rv14","k":258.3,"e":-2.0},{"b":"rv14","k":314.7,"e":-1.85},{"b":"rv14","k":361.7,"e":-1.9},{"b":"rv14","k":405,"e":-2.05},{"b":"rv14","k":449,"e":-1.9},
{"b":"rv7","k":0,"e":-2.21},{"b":"rv7","k":43.3,"e":-1.86},{"b":"rv7","k":88.3,"e":-2.06},{"b":"rv7","k":131.3,"e":-2.11},{"b":"rv7","k":177.7,"e":-2.01},{"b":"rv7","k":215.7,"e":-2.06},{"b":"rv7","k":258.3,"e":-2.11},{"b":"rv7","k":314.7,"e":-1.96},{"b":"rv7","k":361.7,"e":-2.06},{"b":"rv7","k":405,"e":-2.16},{"b":"rv7","k":449,"e":-2.06},
{"b":"rv15","k":0,"e":-2.4},{"b":"rv15","k":43.3,"e":-2.3},{"b":"rv15","k":88.3,"e":-2.2},{"b":"rv15","k":131.3,"e":-2.45},{"b":"rv15","k":177.7,"e":-2.15},{"b":"rv15","k":215.7,"e":-2.2},{"b":"rv15","k":258.3,"e":-2.25},{"b":"rv15","k":314.7,"e":-2.2},{"b":"rv15","k":361.7,"e":-2.4},{"b":"rv15","k":405,"e":-2.3},{"b":"rv15","k":449,"e":-2.2},
{"b":"rx5","k":405,"e":-2.42},{"b":"rx5","k":425,"e":-2.0},{"b":"rx5","k":449,"e":-1.45},
{"b":"rx6","k":0,"e":-2.3},{"b":"rx6","k":20,"e":-2.6},{"b":"rx6","k":43.3,"e":-2.9},{"b":"rx6","k":60,"e":-2.8},{"b":"rx6","k":88.3,"e":-2.6},
{"b":"rv8","k":0,"e":-2.52},{"b":"rv8","k":43.3,"e":-2.06},{"b":"rv8","k":88.3,"e":-2.32},{"b":"rv8","k":131.3,"e":-2.3},{"b":"rv8","k":177.7,"e":-2.27},{"b":"rv8","k":215.7,"e":-2.37},{"b":"rv8","k":258.3,"e":-2.42},{"b":"rv8","k":314.7,"e":-2.32},{"b":"rv8","k":361.7,"e":-2.27},{"b":"rv8","k":405,"e":-2.42},{"b":"rv8","k":449,"e":-2.37},
{"b":"rv9","k":0,"e":-2.67},{"b":"rv9","k":43.3,"e":-2.47},{"b":"rv9","k":88.3,"e":-2.57},{"b":"rv9","k":131.3,"e":-2.57},{"b":"rv9","k":177.7,"e":-2.52},{"b":"rv9","k":215.7,"e":-2.67},{"b":"rv9","k":258.3,"e":-2.67},{"b":"rv9","k":314.7,"e":-2.57},{"b":"rv9","k":361.7,"e":-2.57},{"b":"rv9","k":405,"e":-2.72},{"b":"rv9","k":449,"e":-2.67},
{"b":"rv10","k":0,"e":-2.93},{"b":"rv10","k":43.3,"e":-2.67},{"b":"rv10","k":88.3,"e":-2.9},{"b":"rv10","k":131.3,"e":-2.83},{"b":"rv10","k":177.7,"e":-2.88},{"b":"rv10","k":215.7,"e":-2.95},{"b":"rv10","k":258.3,"e":-2.9},{"b":"rv10","k":314.7,"e":-2.9},{"b":"rv10","k":361.7,"e":-2.85},{"b":"rv10","k":405,"e":-2.95},{"b":"rv10","k":449,"e":-2.9}
]
},
"vconcat":[
{"width":449,"height":195,
"layer":[
{"data":{"name":"mk"},"transform":[{"filter":"datum.k>0 && datum.k<449"}],"mark":{"type":"rule","color":"#555","strokeWidth":1.5},
"encoding":{"x":{"field":"k","type":"quantitative","title":null,"scale":{"domain":[0,449],"nice":false,"zero":false},
"axis":{"values":[0,59,93,160,172.7,231.7,265,332.3,391,404,437.3,449],"labelExpr":"datum.value==59||datum.value==404?'M':datum.value==93||datum.value==437.3?'K':datum.value==172.7||datum.value==332.3?'A':datum.value==231.7||datum.value==391?'L':datum.value==265||datum.value==449?'H':'Γ'","ticks":false,"domain":false,"grid":false,"labelOverlap":false,"labelFlush":false,"labelBound":false,"labelPadding":12,"labelFontSize":16,"labelFont":{"condition":{"test":"datum.value==0||datum.value==160","value":"Liberation Serif"},"value":"Liberation Sans"}}}}},
{"data":{"values":[{"e":0}]},"mark":{"type":"rule","color":"#87ceeb","strokeWidth":2},
"encoding":{"y":{"field":"e","type":"quantitative","scale":{"domain":[-3,3],"nice":false,"zero":false},"axis":{"orient":"right","values":[-3,-1.5,0,1.5,3],"labels":false,"tickSize":-6,"domain":false,"grid":false,"title":null}}}},
{"data":{"name":"m"},"mark":{"type":"line","interpolate":"monotone","clip":true,"color":"#0000ff","strokeWidth":1.3},
"encoding":{"x":{"field":"k","type":"quantitative","title":null},"y":{"field":"e","type":"quantitative","scale":{"domain":[-3,3],"nice":false,"zero":false},"axis":{"values":[-3,-1.5,0,1.5,3],"labelExpr":"''+datum.value","tickSize":-6,"domain":false,"grid":false,"title":null,"labelFontSize":16,"labelPadding":18}},"detail":{"field":"b"}}},
{"data":{"values":[{"t":"MoS","k":361.7,"e":0.47}]},"mark":{"type":"text","align":"left","baseline":"alphabetic","fontSize":20,"font":"Liberation Sans","color":"#000"},
"encoding":{"x":{"field":"k","type":"quantitative","title":null},"y":{"field":"e","type":"quantitative","axis":null},"text":{"field":"t"}}},
{"data":{"values":[{"t":"2","k":361.7,"e":0.47}]},"mark":{"type":"text","align":"left","baseline":"alphabetic","fontSize":16,"dx":41.5,"dy":7,"font":"Liberation Sans","color":"#000"},
"encoding":{"x":{"field":"k","type":"quantitative","title":null},"y":{"field":"e","type":"quantitative","axis":null},"text":{"field":"t"}}}
],
"resolve":{"axis":{"y":"independent"}}},
{"width":449,"height":195,
"layer":[
{"data":{"name":"zk"},"transform":[{"filter":"datum.k>0 && datum.k<449"}],"mark":{"type":"rule","color":"#222","strokeWidth":1},
"encoding":{"x":{"field":"k","type":"quantitative","title":null,"scale":{"domain":[0,449],"nice":false,"zero":false},
"axis":{"values":[0,52.3,82.7,142.3,170.7,222.7,252.7,312.3,364,392.7,422.7,449],"labelExpr":"datum.value==52.3||datum.value==392.7?'M':datum.value==82.7||datum.value==422.7?'K':datum.value==170.7||datum.value==312.3?'A':datum.value==222.7||datum.value==364?'L':datum.value==252.7||datum.value==449?'H':'Γ'","ticks":false,"domain":false,"grid":false,"labelOverlap":false,"labelFlush":false,"labelBound":false,"labelPadding":12,"labelFontSize":16,"labelFont":{"condition":{"test":"datum.value==0||datum.value==142.3","value":"Liberation Serif"},"value":"Liberation Sans"}}}}},
{"data":{"values":[{"e":0}]},"mark":{"type":"rule","color":"#74c3ea","strokeWidth":1.3},
"encoding":{"y":{"field":"e","type":"quantitative","scale":{"domain":[-3,3],"nice":false,"zero":false},"axis":{"orient":"right","values":[-3,-1.5,0,1.5,3],"labels":false,"tickSize":-6,"domain":false,"grid":false,"title":null}}}},
{"data":{"name":"z"},"mark":{"type":"line","interpolate":"monotone","clip":true,"color":"#0000ff","strokeWidth":1.1},
"encoding":{"x":{"field":"k","type":"quantitative","title":null},"y":{"field":"e","type":"quantitative","scale":{"domain":[-3,3],"nice":false,"zero":false},"axis":{"values":[-3,-1.5,0,1.5,3],"labelExpr":"''+datum.value","tickSize":-6,"domain":false,"grid":false,"title":"Energy -Ef\u00a0\u00a0\u00a0\u00a0\u00a0(eV)","titleFontSize":17,"titleFontWeight":"normal","titlePadding":29,"labelFontSize":16,"labelPadding":18}},"detail":{"field":"b"}}},
{"data":{"values":[{"t":"ZrS","k":360.7,"e":0.415}]},"mark":{"type":"text","align":"left","baseline":"alphabetic","fontSize":20,"font":"Liberation Sans","color":"#000"},
"encoding":{"x":{"field":"k","type":"quantitative","title":null},"y":{"field":"e","type":"quantitative","axis":null},"text":{"field":"t"}}},
{"data":{"values":[{"t":"2","k":360.7,"e":0.415}]},"mark":{"type":"text","align":"left","baseline":"alphabetic","fontSize":16,"dx":32.6,"dy":7,"font":"Liberation Sans","color":"#000"},
"encoding":{"x":{"field":"k","type":"quantitative","title":null},"y":{"field":"e","type":"quantitative","axis":null},"text":{"field":"t"}}}
],
"resolve":{"axis":{"y":"independent"}}},
{"width":449,"height":195,
"layer":[
{"data":{"name":"rk"},"transform":[{"filter":"datum.k>0 && datum.k<449"}],"mark":{"type":"rule","color":"#333","strokeWidth":1.2},
"encoding":{"x":{"field":"k","type":"quantitative","title":null,"scale":{"domain":[0,449],"nice":false,"zero":false},
"axis":{"values":[0,43.3,88.3,131.3,177.7,215.7,258.3,314.7,361.7,405,449],"labelExpr":"datum.value==43.3?'Y':datum.value==88.3?'L':datum.value==177.7?'Z':datum.value==215.7?'N':datum.value==314.7?'M':datum.value==361.7?'R':datum.value==449?'X':'Γ'","ticks":false,"domain":false,"grid":false,"labelOverlap":false,"labelFlush":false,"labelBound":false,"labelPadding":12,"labelFontSize":16,"labelFont":{"condition":{"test":"datum.value==0||datum.value==131.3||datum.value==258.3||datum.value==405","value":"Liberation Serif"},"value":"Liberation Sans"}}}}},
{"data":{"values":[{"e":0}]},"mark":{"type":"rule","color":"#74c3ea","strokeWidth":1.3},
"encoding":{"y":{"field":"e","type":"quantitative","scale":{"domain":[-3,3],"nice":false,"zero":false},"axis":{"orient":"right","values":[-3,-1.5,0,1.5,3],"labels":false,"tickSize":-6,"domain":false,"grid":false,"title":null}}}},
{"data":{"name":"r"},"mark":{"type":"line","interpolate":"monotone","clip":true,"color":"#0000ff","strokeWidth":1.1},
"encoding":{"x":{"field":"k","type":"quantitative","title":null},"y":{"field":"e","type":"quantitative","scale":{"domain":[-3,3],"nice":false,"zero":false},"axis":{"values":[-3,-1.5,0,1.5,3],"labelExpr":"''+datum.value","tickSize":-6,"domain":false,"grid":false,"title":null,"labelFontSize":16,"labelPadding":18}},"detail":{"field":"b"}}},
{"data":{"values":[{"t":"ReS","k":361.7,"e":0.41}]},"mark":{"type":"text","align":"left","baseline":"alphabetic","fontSize":20,"font":"Liberation Sans","color":"#000"},
"encoding":{"x":{"field":"k","type":"quantitative","title":null},"y":{"field":"e","type":"quantitative","axis":null},"text":{"field":"t"}}},
{"data":{"values":[{"t":"2","k":361.7,"e":0.41}]},"mark":{"type":"text","align":"left","baseline":"alphabetic","fontSize":16,"dx":39,"dy":7,"font":"Liberation Sans","color":"#000"},
"encoding":{"x":{"field":"k","type":"quantitative","title":null},"y":{"field":"e","type":"quantitative","axis":null},"text":{"field":"t"}}}
],
"resolve":{"axis":{"y":"independent"}}}
]
}
